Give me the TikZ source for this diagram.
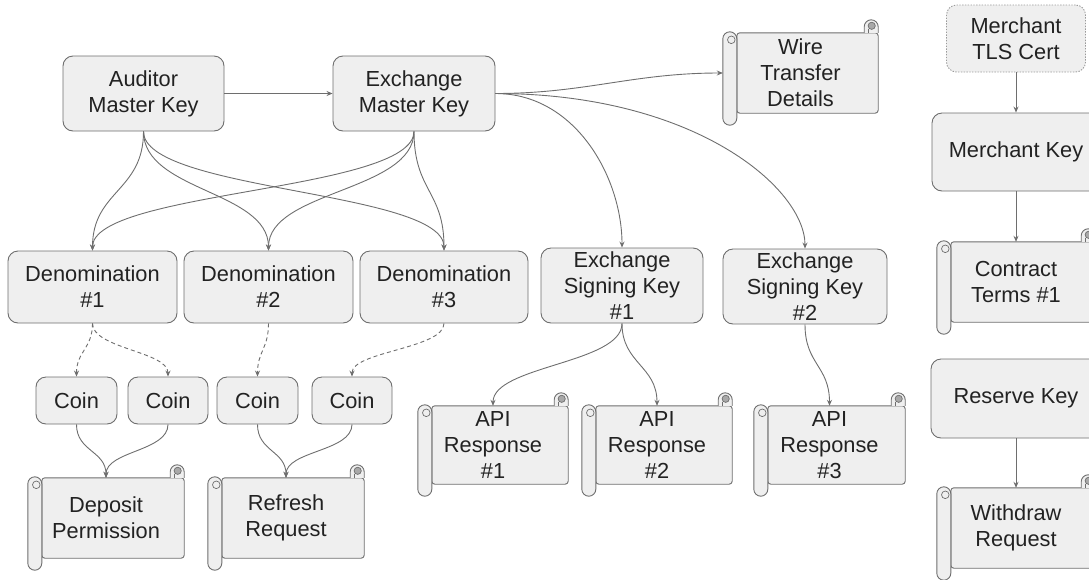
\documentclass[tikz,border=0pt]{standalone}
\usepackage{fontspec}
\setmainfont{Liberation Sans}
\usetikzlibrary{arrows.meta,calc}
\definecolor{boxfill}{HTML}{EFEFEF}
\definecolor{boxline}{HTML}{6E6E6E}
\definecolor{txt}{HTML}{222222}
\definecolor{curlc}{HTML}{A8A8A8}
\definecolor{dotline}{HTML}{9A9A9A}
\pgfdeclarelayer{bg}
\pgfsetlayers{bg,main}
\tikzset{
  lbl/.style={inner sep=0pt, align=center, text=txt, font=\fontsize{21.8}{26}\selectfont},
  keybox/.style={lbl, draw=boxline, fill=boxfill, line width=0.9pt, rounded corners=10pt},
  tlsbox/.style={lbl, draw=dotline, fill=boxfill, line width=0.9pt, rounded corners=10pt, dash pattern=on 1.4pt off 1.4pt},
  scrollbox/.style={lbl},
  scrl/.style={draw=boxline, fill=boxfill, line width=0.9pt},
  conn/.style={draw=boxline, line width=0.9pt, -{Stealth[length=6pt,width=5pt]}},
  dconn/.style={conn, dash pattern=on 4pt off 3pt},
}
\newcommand\scrolldeco[1]{%
  \begin{pgfonlayer}{bg}
    \path[scrl, rounded corners=3pt] ($(#1.north west)+(14,0)$) -- (#1.north east) -- (#1.south east) -- ($(#1.south west)+(14,0)$) -- cycle;
    \path[scrl, rounded corners=7pt] ($(#1.north west)+(0,1)$) rectangle ($(#1.south west)+(14,-12)$);
    \path[scrl, rounded corners=7pt] ($(#1.north east)+(-14,0)$) -- ($(#1.north east)+(-14,13)$) -- ($(#1.north east)+(0,13)$) -- (#1.north east);
    \draw[boxline, line width=0.7pt, fill=curlc] ($(#1.north east)+(-6.5,7)$) circle (3.6pt);
    \draw[boxline, line width=0.7pt] ($(#1.north east)+(-9.5,4)$) -- ($(#1.north east)+(-9.5,0)$);
    \draw[boxline, line width=0.7pt] ($(#1.north west)+(8.5,-7)$) circle (3.8pt);
  \end{pgfonlayer}%
}
\begin{document}
\begin{tikzpicture}[x=1pt,y=1pt]
\useasboundingbox (0,0) rectangle (1089,-579);
\clip (0,0) rectangle (1089,-579);

% key boxes
\node[keybox, minimum width=161pt, minimum height=75pt] (amk) at (143.5,-93.5) {Auditor\\Master Key};
\node[keybox, minimum width=162pt, minimum height=75pt] (emk) at (414,-93.5) {Exchange\\Master Key};
\node[keybox, minimum width=169pt, minimum height=72pt] (d1) at (92.5,-287) {Denomination\\\#1};
\node[keybox, minimum width=169pt, minimum height=72pt] (d2) at (268.5,-287) {Denomination\\\#2};
\node[keybox, minimum width=168pt, minimum height=72pt] (d3) at (444,-287) {Denomination\\\#3};
\node[keybox, minimum width=162pt, minimum height=75pt] (esk1) at (622,-285.5) {Exchange\\Signing Key\\\#1};
\node[keybox, minimum width=164pt, minimum height=75pt] (esk2) at (805,-286.5) {Exchange\\Signing Key\\\#2};
\node[keybox, minimum width=81pt, minimum height=47pt] (c1) at (76.5,-400.5) {Coin};
\node[keybox, minimum width=80pt, minimum height=47pt] (c2) at (168,-400.5) {Coin};
\node[keybox, minimum width=81pt, minimum height=47pt] (c3) at (257.5,-400.5) {Coin};
\node[keybox, minimum width=80pt, minimum height=47pt] (c4) at (352,-400.5) {Coin};
\node[tlsbox, minimum width=139pt, minimum height=67pt] (tls) at (1016,-38.5) {Merchant\\TLS Cert};
\node[keybox, minimum width=168pt, minimum height=78pt] (mk) at (1016,-152) {Merchant Key};
\node[keybox, minimum width=170pt, minimum height=79pt] (rk) at (1016,-398.5) {Reserve Key};

% scrolls
\node[scrollbox, minimum width=156pt, minimum height=80pt] (dep) at (106,-518) {Deposit\\Permission};
\node[scrollbox, minimum width=156pt, minimum height=80pt] (ref) at (286,-518) {Refresh\\Request};
\node[scrollbox, minimum width=150pt, minimum height=78pt] (api1) at (493,-445) {API\\Response\\\#1};
\node[scrollbox, minimum width=150pt, minimum height=78pt] (api2) at (657,-445) {API\\Response\\\#2};
\node[scrollbox, minimum width=151pt, minimum height=78pt] (api3) at (829.5,-445) {API\\Response\\\#3};
\node[scrollbox, minimum width=155pt, minimum height=80pt] (wire) at (800.5,-73) {Wire\\Transfer\\Details};
\node[scrollbox, minimum width=158pt, minimum height=80pt] (ct) at (1016,-282) {Contract\\Terms \#1};
\node[scrollbox, minimum width=158pt, minimum height=80pt] (wr) at (1016,-528) {Withdraw\\Request};
\scrolldeco{dep}\scrolldeco{ref}\scrolldeco{api1}\scrolldeco{api2}\scrolldeco{api3}
\scrolldeco{wire}\scrolldeco{ct}\scrolldeco{wr}

% connectors
\draw[conn] (amk) -- (emk);
\draw[conn] (amk.south) .. controls +(0,-60) and +(0,60) .. (d1.north);
\draw[conn] (amk.south) .. controls +(0,-60) and +(0,60) .. (d2.north);
\draw[conn] (amk.south) .. controls +(0,-60) and +(0,60) .. (d3.north);
\draw[conn] (emk.south) .. controls +(0,-60) and +(0,60) .. (d1.north);
\draw[conn] (emk.south) .. controls +(0,-60) and +(0,60) .. (d2.north);
\draw[conn] (emk.south) .. controls +(0,-60) and +(0,60) .. (d3.north);
\draw[conn] (emk.east) .. controls +(90,0) and +(-90,0) .. (wire.west);
\draw[conn] (emk.east) .. controls +(80,0) and +(0,70) .. (esk1.north);
\draw[conn] (emk.east) .. controls +(200,0) and +(0,60) .. (esk2.north);
\draw[conn] (esk1.south) .. controls +(0,-40) and +(0,40) .. (api1.north);
\draw[conn] (esk1.south) .. controls +(0,-40) and +(0,40) .. (api2.north);
\draw[conn] (esk2.south) .. controls +(0,-40) and +(0,40) .. (api3.north);
\draw[dconn] (d1.south) .. controls +(0,-25) and +(0,25) .. (c1.north);
\draw[dconn] (d1.south) .. controls +(0,-25) and +(0,25) .. (c2.north);
\draw[dconn] (d2.south) .. controls +(0,-25) and +(0,25) .. (c3.north);
\draw[dconn] (d3.south) .. controls +(0,-25) and +(0,25) .. (c4.north);
\draw[conn] (c1.south) .. controls +(0,-27) and +(0,27) .. (dep.north);
\draw[conn] (c2.south) .. controls +(0,-27) and +(0,27) .. (dep.north);
\draw[conn] (c3.south) .. controls +(0,-27) and +(0,27) .. (ref.north);
\draw[conn] (c4.south) .. controls +(0,-27) and +(0,27) .. (ref.north);
\draw[conn] (tls) -- (mk);
\draw[conn] (mk) -- (ct);
\draw[conn] (rk) -- (wr);
\end{tikzpicture}
\end{document}
